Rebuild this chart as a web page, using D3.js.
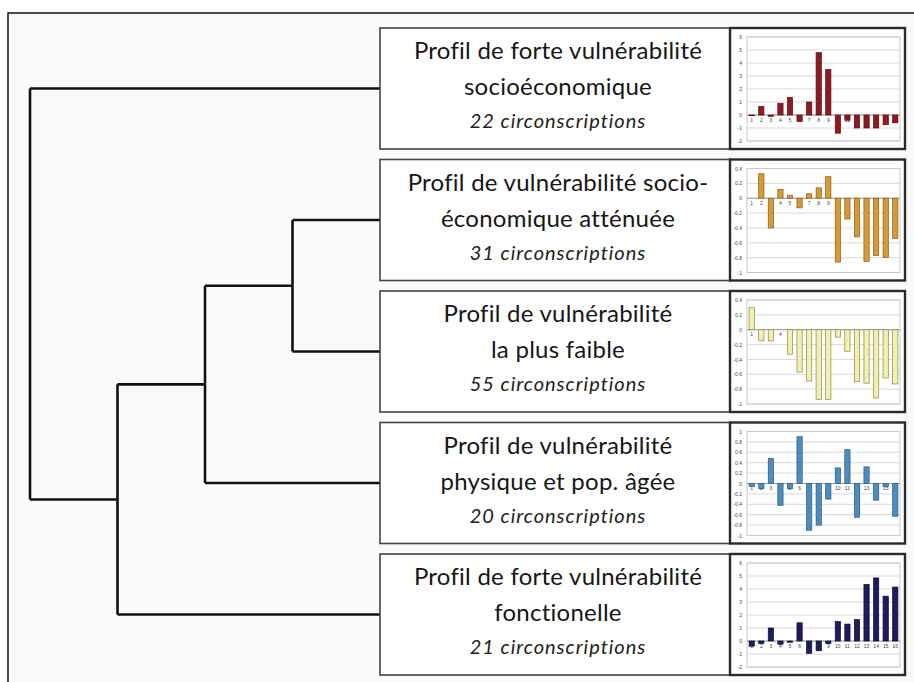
<!DOCTYPE html>
<head>
  <meta charset="utf-8">
  <script src="https://d3js.org/d3.v7.min.js"></script>
  <style>
    body { margin:0; padding:0; background:#fff; }
    .title { font-family: Lato, "DejaVu Sans", sans-serif; fill:#161616; font-variant-ligatures:none; letter-spacing:0.25px; }
    .count { font-family: Lato, "DejaVu Sans", sans-serif; font-style:italic; fill:#222; font-variant-ligatures:none; letter-spacing:1px; }
    .mini text { font-family: Arial, "Liberation Sans", sans-serif; fill:#444; }
  </style>
</head>
<body>
<script>
// ---- data ----
var titleLine1 = ["Profil de forte vulnérabilité", "Profil de vulnérabilité socio-", "Profil de vulnérabilité",
                  "Profil de vulnérabilité", "Profil de forte vulnérabilité"];
var titleLine2 = ["socioéconomique", "économique atténuée", "la plus faible",
                  "physique et pop. âgée", "fonctionelle"];
var counts = [22, 31, 55, 20, 21];
var categories = ["1","2","3","4","5","6","7","8","9","10","11","12","13","14","15","16"];

var serieForte     = [-0.05, 0.65, -0.1, 0.9, 1.35, -0.5, 1.0, 4.8, 3.5, -1.4, -0.4, -1.0, -1.0, -1.0, -0.75, -0.6];
var serieAttenuee  = [0, 0.33, -0.4, 0.12, 0.04, -0.13, 0.06, 0.14, 0.29, -0.86, -0.28, -0.52, -0.85, -0.77, -0.8, -0.54];
var serieFaible    = [0.3, -0.15, -0.15, 0, -0.33, -0.57, -0.69, -0.94, -0.94, -0.1, -0.29, -0.7, -0.72, -0.92, -0.65, -0.73];
var seriePhysique  = [-0.06, -0.1, 0.48, -0.42, -0.1, 0.9, -0.9, -0.8, -0.3, 0.3, 0.65, -0.65, 0.32, -0.32, -0.06, -0.63];
var serieFonction  = [-0.4, -0.2, 1.0, -0.25, -0.1, 1.4, -0.95, -0.75, -0.2, 1.5, 1.3, 1.65, 4.35, 4.85, 3.45, 4.15];

var series = [serieForte, serieAttenuee, serieFaible, seriePhysique, serieFonction];
var yDomains = [[-2, 6], [-1, 0.4], [-1, 0.4], [-1, 1], [-2, 6]];
var yTicks = [[6,5,4,3,2,1,0,-1,-2],
              [0.4,0.2,0,-0.2,-0.4,-0.6,-0.8,-1],
              [0.4,0.2,0,-0.2,-0.4,-0.6,-0.8,-1],
              [1,0.8,0.6,0.4,0.2,0,-0.2,-0.4,-0.6,-0.8,-1],
              [6,5,4,3,2,1,0,-1,-2]];
var fills   = ["#8e1b1f", "#d49a35", "#f2efb0", "#4d8dbd", "#1d1d5c"];
var strokes = ["#5a0e10", "#8a5f16", "#8c8a4a", "#2c5a80", "#0d0d30"];

// dendrogram: leaves are profile indices, node heights are merge levels
var tree = {h: 4, children: [
  {leaf: 0, h: 0},
  {h: 3, children: [
    {h: 2, children: [
      {h: 1, children: [{leaf: 1, h: 0}, {leaf: 2, h: 0}]},
      {leaf: 3, h: 0}
    ]},
    {leaf: 4, h: 0}
  ]}
]};

// ---- layout ----
var W = 914, H = 682;
var boxX = 380, boxW = 350, chartW = 175, boxH = 121;
var rowY = d3.scalePoint().domain(d3.range(5)).range([28, 554]);

var svg = d3.select("body").append("svg").attr("width", W).attr("height", H);

svg.append("rect").attr("x", 8).attr("y", 13).attr("width", W).attr("height", H)
  .attr("fill", "#fafafa").attr("stroke", "#111").attr("stroke-width", 1.5);

// dendrogram
var xH = d3.scaleLinear().domain([0, 4]).range([boxX, 30]);
var root = d3.hierarchy(tree);
root.eachAfter(function(n) {
  n.px = xH(n.data.h);
  if (n.children) n.py = (n.children[0].py + n.children[n.children.length - 1].py) / 2;
  else n.py = rowY(n.data.leaf) + boxH / 2;
});
var dg = svg.append("g").attr("fill", "none").attr("stroke", "#111").attr("stroke-width", 2.6);
root.descendants().forEach(function(n) {
  if (!n.children) return;
  var c = n.children;
  dg.append("path").attr("d", "M" + n.px + "," + c[0].py + "V" + c[c.length - 1].py);
  c.forEach(function(k) {
    dg.append("path").attr("d", "M" + n.px + "," + k.py + "H" + k.px);
  });
});

// boxes
for (var i = 0; i < 5; i++) {
  var y0 = rowY(i);
  var g = svg.append("g").attr("transform", "translate(0," + y0 + ")");
  g.append("rect").attr("x", boxX).attr("y", 0).attr("width", boxW).attr("height", boxH)
    .attr("fill", "#fff").attr("stroke", "#444").attr("stroke-width", 1.6);
  var cx = boxX + boxW / 2 + 3;
  g.append("text").attr("class", "title").attr("x", cx).attr("y", 31)
    .attr("text-anchor", "middle").attr("font-size", 24).text(titleLine1[i]);
  g.append("text").attr("class", "title").attr("x", cx).attr("y", 67)
    .attr("text-anchor", "middle").attr("font-size", 24).text(titleLine2[i]);
  g.append("text").attr("class", "count").attr("x", cx).attr("y", 100)
    .attr("text-anchor", "middle").attr("font-size", 20).text(counts[i] + " circonscriptions");

  // mini bar chart
  var m = g.append("g").attr("class", "mini").attr("transform", "translate(" + (boxX + boxW) + ",0)");
  m.append("rect").attr("x", 0).attr("y", 0).attr("width", chartW).attr("height", boxH)
    .attr("fill", "#fff").attr("stroke", "#2a2a2a").attr("stroke-width", 2.4);
  var px0 = 17, px1 = 170, py0 = 9, py1 = 113;
  var x = d3.scaleBand().domain(categories).range([px0, px1]).paddingInner(0.45).paddingOuter(0.22);
  var y = d3.scaleLinear().domain(yDomains[i]).range([py1, py0]);
  m.append("rect").attr("x", px0).attr("y", py0).attr("width", px1 - px0).attr("height", py1 - py0)
    .attr("fill", "none").attr("stroke", "#bbb").attr("stroke-width", 0.8);
  m.selectAll(".grid").data(yTicks[i]).enter().append("line")
    .attr("x1", px0).attr("x2", px1).attr("y1", function(d) { return y(d); }).attr("y2", function(d) { return y(d); })
    .attr("stroke", "#c8c8c8").attr("stroke-width", 0.7);
  var yAxis = d3.axisLeft(y).tickValues(yTicks[i]).tickSize(0).tickPadding(5)
    .tickFormat(function(d) { return String(+d.toFixed(1)); });
  var ya = m.append("g").attr("transform", "translate(" + px0 + ",0)").call(yAxis);
  ya.select(".domain").remove();
  ya.selectAll("text").attr("font-size", 5).attr("fill", "#444");
  m.append("line").attr("x1", px0).attr("x2", px1).attr("y1", y(0)).attr("y2", y(0))
    .attr("stroke", "#888").attr("stroke-width", 0.8);
  var xAxis = d3.axisBottom(x).tickSize(0).tickPadding(3);
  var xa = m.append("g").attr("transform", "translate(0," + y(0) + ")").call(xAxis);
  xa.select(".domain").remove();
  xa.selectAll("text").attr("font-size", 5).attr("fill", "#444");
  m.selectAll(".bar").data(series[i]).enter().append("rect")
    .attr("x", function(d, j) { return x(categories[j]); })
    .attr("width", x.bandwidth())
    .attr("y", function(d) { return y(Math.max(0, d)); })
    .attr("height", function(d) { return Math.abs(y(d) - y(0)); })
    .attr("fill", fills[i]).attr("stroke", strokes[i]).attr("stroke-width", 0.7);
}
</script>
</body>
